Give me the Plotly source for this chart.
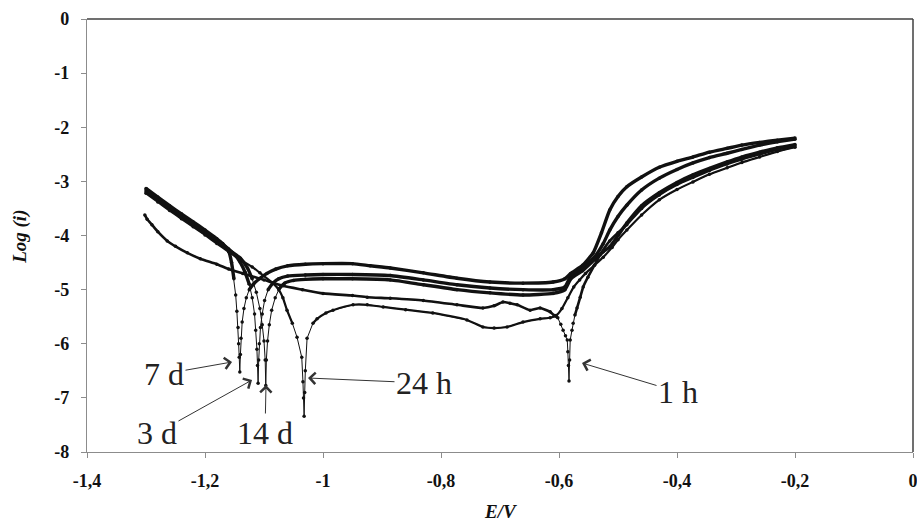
import plotly.graph_objects as go

# ---------------- data ----------------
E_7d = [-1.30, -1.28, -1.26, -1.24, -1.22, -1.20, -1.18, -1.17, -1.16, -1.155, -1.151, -1.148,
        -1.146, -1.144, -1.143, -1.142, -1.141, -1.140, -1.139, -1.137, -1.134, -1.130, -1.125,
        -1.118, -1.108, -1.095, -1.08, -1.06, -1.03, -1.00, -0.95, -0.92, -0.886, -0.83, -0.773,
        -0.717, -0.661, -0.61, -0.59, -0.58, -0.56, -0.542, -0.528, -0.514, -0.50, -0.485, -0.46,
        -0.43, -0.40, -0.373, -0.345, -0.315, -0.29, -0.26, -0.23, -0.20]
L_7d = [-3.13, -3.29, -3.45, -3.60, -3.75, -3.90, -4.06, -4.15, -4.28, -4.50, -4.80, -5.10,
        -5.40, -5.70, -6.00, -6.25, -6.52, -6.20, -5.90, -5.60, -5.35, -5.15, -5.00,
        -4.90, -4.80, -4.70, -4.62, -4.56, -4.53, -4.52, -4.52, -4.56, -4.60, -4.69, -4.79,
        -4.86, -4.88, -4.86, -4.80, -4.70, -4.55, -4.32, -3.95, -3.53, -3.28, -3.10, -2.92,
        -2.74, -2.63, -2.55, -2.46, -2.39, -2.33, -2.28, -2.24, -2.20]

E_3d = [-1.30, -1.28, -1.26, -1.24, -1.22, -1.20, -1.18, -1.16, -1.15, -1.14, -1.132, -1.125,
        -1.12, -1.116, -1.114, -1.112, -1.111, -1.110, -1.109, -1.108, -1.106, -1.103, -1.099,
        -1.093, -1.085, -1.075, -1.06, -1.03, -1.00, -0.95, -0.886, -0.83, -0.773, -0.717,
        -0.661, -0.61, -0.59, -0.58, -0.56, -0.54, -0.525, -0.514, -0.50, -0.485, -0.46, -0.43,
        -0.40, -0.373, -0.345, -0.315, -0.29, -0.26, -0.23, -0.20]
L_3d = [-3.16, -3.32, -3.48, -3.63, -3.78, -3.93, -4.09, -4.25, -4.35, -4.50, -4.68, -4.90,
        -5.15, -5.45, -5.75, -6.10, -6.40, -6.73, -6.30, -6.00, -5.70, -5.45, -5.20,
        -5.00, -4.88, -4.80, -4.75, -4.73, -4.72, -4.72, -4.74, -4.82, -4.91, -4.97,
        -5.00, -5.00, -4.95, -4.75, -4.60, -4.40, -4.15, -3.90, -3.65, -3.44, -3.16, -2.94,
        -2.78, -2.66, -2.56, -2.48, -2.41, -2.33, -2.27, -2.22]

E_14d = [-1.30, -1.28, -1.26, -1.24, -1.22, -1.20, -1.18, -1.16, -1.14, -1.128, -1.12, -1.113,
         -1.107, -1.103, -1.100, -1.098, -1.097, -1.096, -1.094, -1.091, -1.087, -1.081, -1.074,
         -1.065, -1.05, -1.03, -1.00, -0.95, -0.886, -0.83, -0.773, -0.717, -0.661, -0.61,
         -0.59, -0.58, -0.56, -0.54, -0.525, -0.514, -0.50, -0.485, -0.46, -0.43, -0.40,
         -0.373, -0.345, -0.315, -0.29, -0.26, -0.23, -0.20]
L_14d = [-3.19, -3.35, -3.51, -3.66, -3.81, -3.96, -4.12, -4.27, -4.42, -4.60, -4.80, -5.05,
         -5.35, -5.65, -5.95, -6.30, -6.77, -6.30, -5.95, -5.65, -5.38, -5.15, -4.98,
         -4.88, -4.83, -4.81, -4.80, -4.80, -4.82, -4.91, -5.00, -5.06, -5.10, -5.07,
         -5.00, -4.80, -4.65, -4.45, -4.30, -4.21, -4.00, -3.77, -3.45, -3.21, -3.02,
         -2.88, -2.76, -2.64, -2.55, -2.46, -2.38, -2.32]

E_24h = [-1.30, -1.28, -1.26, -1.24, -1.22, -1.20, -1.18, -1.16, -1.14, -1.12, -1.107, -1.085,
         -1.075, -1.068, -1.061, -1.052, -1.044, -1.036, -1.034, -1.033, -1.032, -1.031, -1.030,
         -1.027, -1.017, -1.010, -0.995, -0.983, -0.949, -0.925, -0.898, -0.86, -0.814, -0.756,
         -0.729, -0.71, -0.688, -0.661, -0.632, -0.615, -0.605, -0.595, -0.585, -0.575, -0.565,
         -0.555, -0.54, -0.525, -0.51, -0.50, -0.485, -0.46, -0.43, -0.40, -0.373, -0.345,
         -0.315, -0.29, -0.26, -0.23, -0.20]
L_24h = [-3.22, -3.38, -3.54, -3.69, -3.84, -3.99, -4.15, -4.30, -4.45, -4.58, -4.69, -4.88,
         -5.00, -5.15, -5.38, -5.62, -5.88, -6.25, -6.70, -7.00, -7.34, -6.90, -6.50,
         -5.90, -5.62, -5.54, -5.43, -5.38, -5.28, -5.28, -5.32, -5.37, -5.43, -5.56,
         -5.69, -5.71, -5.69, -5.60, -5.54, -5.52, -5.48, -5.35, -5.15, -4.95, -4.82,
         -4.70, -4.55, -4.40, -4.22, -4.08, -3.90, -3.62, -3.34, -3.15, -3.01, -2.87,
         -2.75, -2.65, -2.55, -2.45, -2.37]

E_1h = [-1.302, -1.298, -1.29, -1.28, -1.264, -1.25, -1.23, -1.208, -1.18, -1.16, -1.136, -1.10,
        -1.068, -1.035, -1.00, -0.95, -0.925, -0.886, -0.83, -0.773, -0.729, -0.71, -0.695,
        -0.683, -0.671, -0.649, -0.632, -0.615, -0.608, -0.602, -0.597, -0.593, -0.589, -0.586,
        -0.585, -0.584, -0.583, -0.582, -0.581, -0.578, -0.576, -0.573, -0.5695, -0.564, -0.559,
        -0.551, -0.54, -0.53, -0.514, -0.50, -0.485, -0.46, -0.43, -0.40, -0.373, -0.345,
        -0.315, -0.29, -0.26, -0.23, -0.20]
L_1h = [-3.62, -3.70, -3.80, -3.93, -4.10, -4.20, -4.32, -4.43, -4.53, -4.62, -4.70, -4.82,
        -4.93, -5.00, -5.07, -5.11, -5.14, -5.16, -5.20, -5.28, -5.34, -5.30, -5.23,
        -5.25, -5.28, -5.38, -5.34, -5.41, -5.48, -5.52, -5.64, -5.75, -5.85, -5.93,
        -6.15, -6.40, -6.69, -6.30, -5.93, -5.75, -5.62, -5.47, -5.34, -5.14, -4.95,
        -4.77, -4.55, -4.35, -4.10, -3.95, -3.80, -3.50, -3.25, -3.06, -2.93, -2.80,
        -2.68, -2.59, -2.50, -2.41, -2.34]

x_tickvals = [-1.4, -1.2, -1.0, -0.8, -0.6, -0.4, -0.2, 0.0]
x_ticktext = ["-1,4", "-1,2", "-1", "-0,8", "-0,6", "-0,4", "-0,2", "0"]
y_tickvals = [0, -1, -2, -3, -4, -5, -6, -7, -8]

labels = ["7 d", "3 d", "14 d", "24 h", "1 h"]
label_E = [-1.2695, -1.2814, -1.0983, -0.8288, -0.3983]
label_L = [-6.559, -7.649, -7.649, -6.725, -6.891]
tip_E = [-1.1542, -1.1203, -1.0966, -1.0254, -0.561]
tip_L = [-6.337, -6.670, -6.762, -6.633, -6.356]

# ---------------- styling ----------------
INK = "#111111"
AXIS = "#8c8c8c"
BORDER = "#404040"
SERIF = "Liberation Serif, Times New Roman, serif"

curves = [("7 d", E_7d, L_7d), ("3 d", E_3d, L_3d), ("14 d", E_14d, L_14d),
          ("24 h", E_24h, L_24h), ("1 h", E_1h, L_1h)]
style = {"7 d": dict(w=3.4, thr=-5.0), "3 d": dict(w=3.4, thr=-5.0),
         "14 d": dict(w=3.4, thr=-5.0), "24 h": dict(w=2.2, thr=-5.75),
         "1 h": dict(w=2.6, thr=-5.6)}

fig = go.Figure()
for name, E, L in curves:
    assert len(E) == len(L), name
    st = style[name]
    i0 = L.index(min(L))
    a = i0
    while a - 1 >= 0 and L[a - 1] < st["thr"]:
        a -= 1
    b = i0
    while b + 1 < len(L) and L[b + 1] < st["thr"]:
        b += 1
    body = [None if a <= i <= b else v for i, v in enumerate(L)]
    fig.add_trace(go.Scatter(x=E, y=L, mode="lines+markers", name=name,
                             line=dict(color=INK, width=1),
                             marker=dict(size=3.5, color=INK),
                             showlegend=False, hoverinfo="skip"))
    fig.add_trace(go.Scatter(x=E, y=body, mode="lines", name=name,
                             line=dict(color=INK, width=st["w"], shape="spline", smoothing=0.5),
                             connectgaps=False, showlegend=False))

for t, xe, yl, tx, ty in zip(labels, label_E, label_L, tip_E, tip_L):
    fig.add_annotation(x=tx, y=ty, xref="x", yref="y", ax=xe, ay=yl, axref="x", ayref="y",
                       text=t, showarrow=True, arrowhead=4, arrowsize=2.2, arrowwidth=1,
                       arrowcolor="#333333", font=dict(family=SERIF, size=32, color="#222222"))

fig.add_annotation(text="<b><i>E/V</i></b>", x=0.5, y=-0.138, xref="paper", yref="paper",
                   showarrow=False, xanchor="center", yanchor="middle",
                   font=dict(family=SERIF, size=19, color=INK))
fig.add_annotation(text="<b><i>Log (i)</i></b>", x=-0.0811, y=0.497, xref="paper", yref="paper",
                   showarrow=False, xanchor="center", yanchor="middle", textangle=-90,
                   font=dict(family=SERIF, size=19, color=INK))

# top and right border of the plot area
fig.add_shape(type="line", xref="paper", yref="paper", x0=0, x1=1, y0=1, y1=1,
              line=dict(color=BORDER, width=1.5))
fig.add_shape(type="line", xref="paper", yref="paper", x0=1, x1=1, y0=0, y1=1,
              line=dict(color=BORDER, width=1.5))

fig.update_layout(
    width=917, height=523,
    margin=dict(l=87, r=4, t=19, b=71, autoexpand=False),
    paper_bgcolor="white", plot_bgcolor="white",
    xaxis=dict(range=[-1.4, 0], tickvals=x_tickvals,
               ticktext=["<b>%s</b>" % s for s in x_ticktext],
               showgrid=False, zeroline=False, showline=True, linecolor=AXIS, linewidth=1.3,
               ticks="outside", ticklen=5, tickcolor=AXIS, tickwidth=1.3,
               ticklabelstandoff=7, ticklabeloverflow="allow", automargin=False,
               tickfont=dict(family=SERIF, size=18, color=INK)),
    yaxis=dict(range=[-8, 0], tickvals=y_tickvals,
               ticktext=["<b>%d</b>" % v for v in y_tickvals],
               showgrid=False, zeroline=False, showline=True, linecolor=AXIS, linewidth=1.3,
               ticks="outside", ticklen=5, tickcolor=AXIS, tickwidth=1.3,
               ticklabelstandoff=8, ticklabeloverflow="allow", automargin=False,
               tickfont=dict(family=SERIF, size=18, color=INK)),
)

fig.write_html("out.html")
